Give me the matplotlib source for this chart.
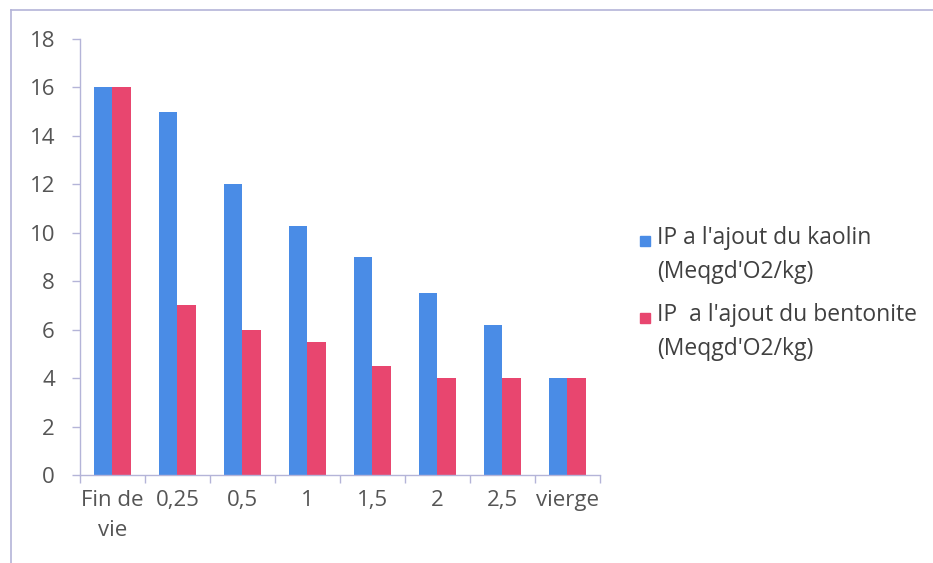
import matplotlib.pyplot as plt
import numpy as np
from matplotlib.lines import Line2D
from matplotlib.patches import Rectangle

plt.rcParams['font.family'] = ['Open Sans', 'DejaVu Sans']

categories = ['Fin de\nvie', '0,25', '0,5', '1', '1,5', '2', '2,5', 'vierge']
kaolin = [16, 15, 12, 10.3, 9, 7.5, 6.2, 4]
bentonite = [16, 7, 6, 5.5, 4.5, 4, 4, 4]
labels = ["IP a l'ajout du kaolin\n(Meqgd'O2/kg)",
          "IP  a l'ajout du bentonite\n(Meqgd'O2/kg)"]

blue = '#4a8ce6'
red = '#e8466f'
axis_col = '#b4b4d8'
text_col = '#555555'

fig = plt.figure(figsize=(9.33, 5.63), dpi=100)
ax = fig.add_axes([0.0857, 0.1563, 0.5573, 0.7744])

x = np.arange(len(categories))
w = 0.29
ax.bar(x - w / 2, kaolin, w, color=blue, label=labels[0])
ax.bar(x + w / 2, bentonite, w, color=red, label=labels[1])

ax.set_xlim(-0.5, len(categories) - 0.5)
ax.set_ylim(0, 18)
ax.set_yticks(np.arange(0, 19, 2))

# category labels centred, tick marks between groups
ax.set_xticks(x)
ax.set_xticklabels(categories, linespacing=1.55)
ax.set_xticks(np.arange(-0.5, len(categories)), minor=True)
ax.tick_params(axis='x', which='major', length=0, pad=11)
ax.tick_params(axis='x', which='minor', length=6, color=axis_col, width=1)
ax.tick_params(axis='y', length=6, color=axis_col, width=1, pad=12)
ax.tick_params(labelsize=16, labelcolor=text_col)

for s in ['top', 'right']:
    ax.spines[s].set_visible(False)
for s in ['left', 'bottom']:
    ax.spines[s].set_color(axis_col)
    ax.spines[s].set_linewidth(1)

# legend drawn by hand so the swatch sits on the first line
for i, (lab, col) in enumerate(zip(labels, [blue, red])):
    y0 = 0.598 - i * 0.137
    fig.patches.append(Rectangle((0.6855, 0.563 - i * 0.137), 0.011, 0.018,
                                 transform=fig.transFigure, color=col))
    fig.text(0.7045, y0, lab, fontsize=16.5, color='#404040',
             va='top', ha='left', linespacing=1.55,
             transform=fig.transFigure)

# outer chart frame
fig.add_artist(Line2D([0.0118, 0.0118], [0.0, 0.982], color=axis_col, lw=1.2))
fig.add_artist(Line2D([0.0118, 1.0], [0.982, 0.982], color=axis_col, lw=1.2))

fig.savefig('out.png', dpi=100)
